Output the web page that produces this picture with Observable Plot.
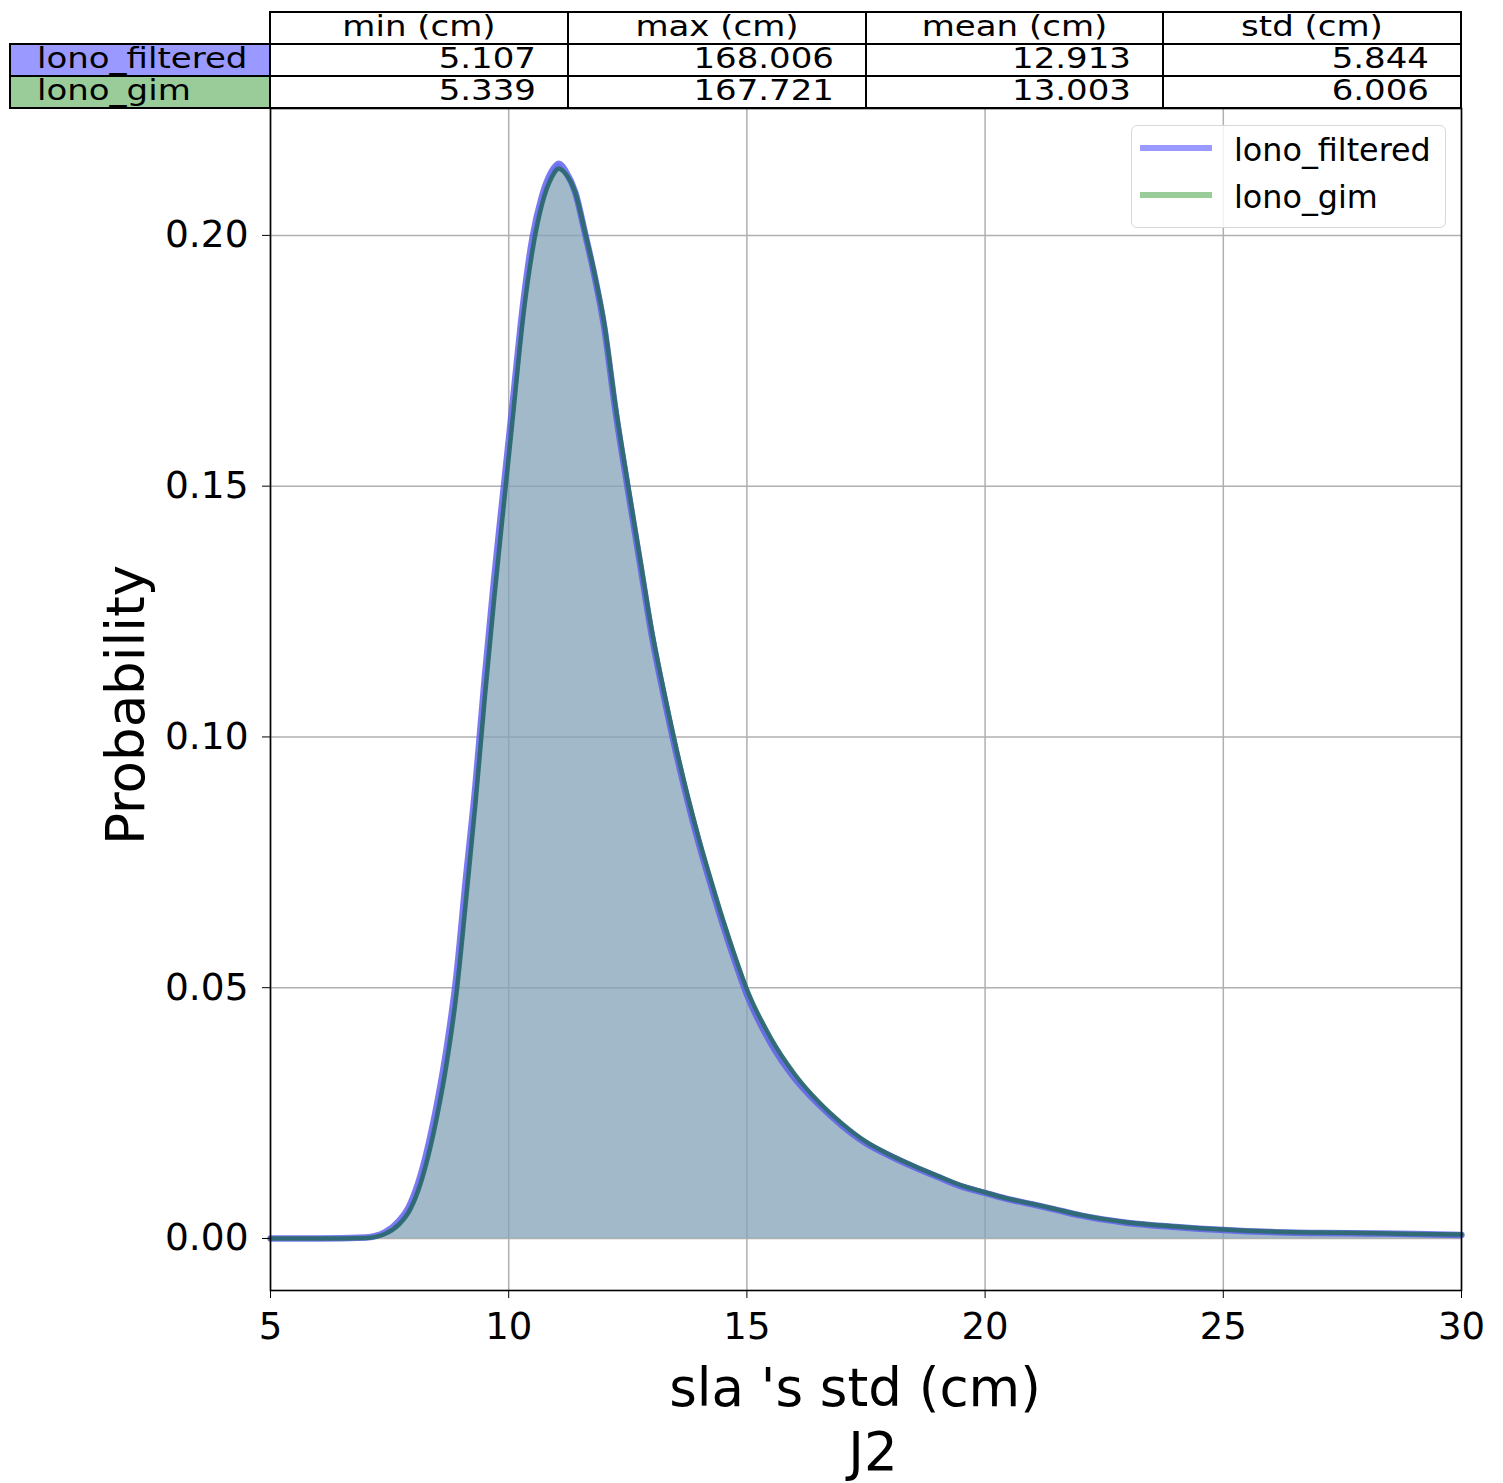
<!DOCTYPE html>
<html>
<head>
<meta charset="utf-8">
<script src="https://cdn.jsdelivr.net/npm/d3@7"></script>
<script src="https://cdn.jsdelivr.net/npm/@observablehq/plot@0.6"></script>
<style>
  body { margin: 0; background: #fff; font-family: "DejaVu Sans", sans-serif; }
  #wrap { position: relative; width: 1503px; height: 1483px; overflow: hidden; background: #fff; }
  #chart { position: absolute; left: 0; top: 100px; }
  .cell { position: absolute; box-sizing: border-box; border: 2px solid #000; font-size: 34px; white-space: nowrap; color: #000; overflow: visible; }
  .cell span { position: absolute; top: -3px; line-height: 32px; transform: scaleY(0.85); transform-origin: 50% 50%; }
  .lbl { position: absolute; white-space: nowrap; color: #000; }
  #legend { position: absolute; left: 1131px; top: 125px; width: 315px; height: 103px; box-sizing: border-box;
            border: 1.5px solid #d8d8d8; border-radius: 6px; background: rgba(255,255,255,0.85); }
  .sw { position: absolute; height: 6px; width: 72px; }
  .lt { position: absolute; font-size: 31.8px; line-height: 36px; white-space: nowrap; }
</style>
</head>
<body>
<div id="wrap">
  <div id="chart"></div>
</div>
<script>
// ---- data ----
const xs = [5, 6, 7, 7.4, 7.7, 7.9, 8.1, 8.3, 8.5, 8.7, 8.9, 9.1, 9.3, 9.5, 9.7, 9.9, 10.1, 10.3, 10.5, 10.7, 10.9, 11.05, 11.2, 11.4, 11.6, 11.8, 12.0, 12.25, 12.5, 12.75, 13.0, 13.25, 13.5, 13.75, 14.0, 14.25, 14.5, 14.75, 15.0, 15.5, 16.0, 16.5, 17.0, 17.5, 18.0, 18.5, 19.0, 19.5, 20.0, 20.5, 21.0, 21.5, 22, 23, 24, 25, 26, 27, 28, 29, 30];
const filteredY = [0, 0, 0.0002, 0.0012, 0.0035, 0.0062, 0.011, 0.018, 0.027, 0.038, 0.052, 0.0715, 0.090, 0.112, 0.132, 0.150, 0.168, 0.186, 0.1995, 0.2078, 0.2127, 0.2143, 0.2127, 0.2085, 0.2005, 0.192, 0.182, 0.1645, 0.1495, 0.135, 0.1205, 0.1085, 0.0975, 0.0875, 0.0785, 0.0703, 0.0625, 0.0553, 0.0487, 0.039, 0.032, 0.0268, 0.0225, 0.019, 0.0165, 0.0143, 0.0123, 0.0104, 0.0091, 0.0078, 0.0068, 0.0057, 0.0046, 0.0031, 0.0023, 0.0017, 0.0013, 0.0011, 0.0010, 0.0009, 0.0007];
const gimY = [0, 0, 0.0001, 0.0009, 0.0028, 0.0052, 0.0095, 0.016, 0.0245, 0.035, 0.0485, 0.067, 0.0865, 0.108, 0.128, 0.1465, 0.165, 0.1835, 0.197, 0.2062, 0.2115, 0.2133, 0.2122, 0.2085, 0.2008, 0.1925, 0.1828, 0.1655, 0.1505, 0.136, 0.1215, 0.1095, 0.0985, 0.0885, 0.0795, 0.0713, 0.0635, 0.0563, 0.0497, 0.040, 0.0328, 0.0273, 0.0229, 0.0193, 0.0167, 0.0145, 0.0125, 0.0106, 0.0092, 0.0079, 0.0069, 0.0058, 0.0047, 0.0032, 0.0024, 0.0018, 0.0014, 0.0012, 0.0011, 0.0009, 0.0008];
const seriesNames = ["lono_filtered", "lono_gim"];
const seriesColors = ["#9999ff", "#99cc99"];
const statColumns = ["min (cm)", "max (cm)", "mean (cm)", "std (cm)"];
const filteredStats = ["5.107", "168.006", "12.913", "5.844"];
const gimStats = ["5.339", "167.721", "13.003", "6.006"];
const xTicks = [5, 10, 15, 20, 25, 30];
const yTicks = [0, 0.05, 0.10, 0.15, 0.20];
const xLabel = "sla 's std (cm)";
const subLabel = "J2";
const yLabel = "Probability";

// ---- build tables for Plot ----
const filtered = xs.map((x, i) => ({x, y: filteredY[i]}));
const gim = xs.map((x, i) => ({x, y: gimY[i]}));

const plot = Plot.plot({
  width: 1503,
  height: 1383,
  marginTop: 8,
  marginBottom: 193,
  marginLeft: 270,
  marginRight: 42,
  style: {fontFamily: "DejaVu Sans", fontSize: "37px", color: "#000", background: "#fff"},
  x: {domain: [5, 30]},
  y: {domain: [-0.01037, 0.2253]},
  marks: [
    Plot.gridX(xTicks, {stroke: "#b0b0b0", strokeOpacity: 1, strokeWidth: 1.5}),
    Plot.gridY(yTicks, {stroke: "#b0b0b0", strokeOpacity: 1, strokeWidth: 1.5}),
    Plot.areaY(filtered, {x: "x", y: "y", fill: "rgb(110,130,220)", fillOpacity: 0.5, curve: "monotone-x"}),
    Plot.areaY(gim, {x: "x", y: "y", fill: "rgb(140,178,165)", fillOpacity: 0.5, curve: "monotone-x"}),
    Plot.lineY(filtered, {x: "x", y: "y", stroke: "#5a5aee", strokeWidth: 6.5, strokeOpacity: 0.8, curve: "monotone-x"}),
    Plot.lineY(gim, {x: "x", y: "y", stroke: "#2c6a70", strokeWidth: 4.5, strokeOpacity: 0.95, curve: "monotone-x"}),
    Plot.frame({stroke: "#000", strokeWidth: 1.6}),
    Plot.axisX({ticks: xTicks, tickSize: 8, tickPadding: 14, label: null, fontSize: 37, tickFormat: d3.format("d")}),
    Plot.axisY({ticks: yTicks, tickSize: 8, tickPadding: 14, label: null, fontSize: 37.5, tickFormat: d3.format(".2f")})
  ]
});
document.getElementById("chart").appendChild(plot);

const wrap = document.getElementById("wrap");

// ---- stats table ----
const colEdges = [10, 270, 568, 866, 1163, 1461];
const rowEdges = [12, 44, 76, 108];
function cell(x0, x1, y0, y1, text, align, bg) {
  const d = document.createElement("div");
  d.className = "cell";
  d.style.left = (x0 - 1) + "px";
  d.style.top = (y0 - 1) + "px";
  d.style.width = (x1 - x0 + 2) + "px";
  d.style.height = (y1 - y0 + 2) + "px";
  if (bg) d.style.background = bg;
  const s = document.createElement("span");
  s.textContent = text;
  if (align === "center") { s.style.left = "0"; s.style.right = "0"; s.style.textAlign = "center"; }
  else if (align === "right") { s.style.right = "31px"; }
  else { s.style.left = "26px"; }
  d.appendChild(s);
  wrap.appendChild(d);
}
statColumns.forEach((c, j) => cell(colEdges[j + 1], colEdges[j + 2], rowEdges[0], rowEdges[1], c, "center"));
[filteredStats, gimStats].forEach((row, i) => {
  cell(colEdges[0], colEdges[1], rowEdges[i + 1], rowEdges[i + 2], seriesNames[i], "left", seriesColors[i]);
  row.forEach((v, j) => cell(colEdges[j + 1], colEdges[j + 2], rowEdges[i + 1], rowEdges[i + 2], v, "right"));
});

// ---- legend ----
const legend = document.createElement("div");
legend.id = "legend";
wrap.appendChild(legend);
seriesNames.forEach((n, i) => {
  const sw = document.createElement("div");
  sw.className = "sw";
  sw.style.left = "1140px";
  sw.style.top = (145 + i * 47) + "px";
  sw.style.background = seriesColors[i];
  wrap.appendChild(sw);
  const t = document.createElement("div");
  t.className = "lt";
  t.style.left = "1234px";
  t.style.top = (132 + i * 47) + "px";
  t.textContent = n;
  wrap.appendChild(t);
});

// ---- axis labels ----
function label(text, cx, cy, size, rot) {
  const d = document.createElement("div");
  d.className = "lbl";
  d.textContent = text;
  d.style.fontSize = size + "px";
  d.style.lineHeight = "1";
  d.style.left = cx + "px";
  d.style.top = cy + "px";
  d.style.transform = "translate(-50%,-50%)" + (rot ? " rotate(-90deg)" : "");
  wrap.appendChild(d);
}
label(xLabel, 855, 1387, 53, false);
label(subLabel, 873, 1451, 53, false);
label(yLabel, 125, 705, 53, true);
</script>
</body>
</html>
